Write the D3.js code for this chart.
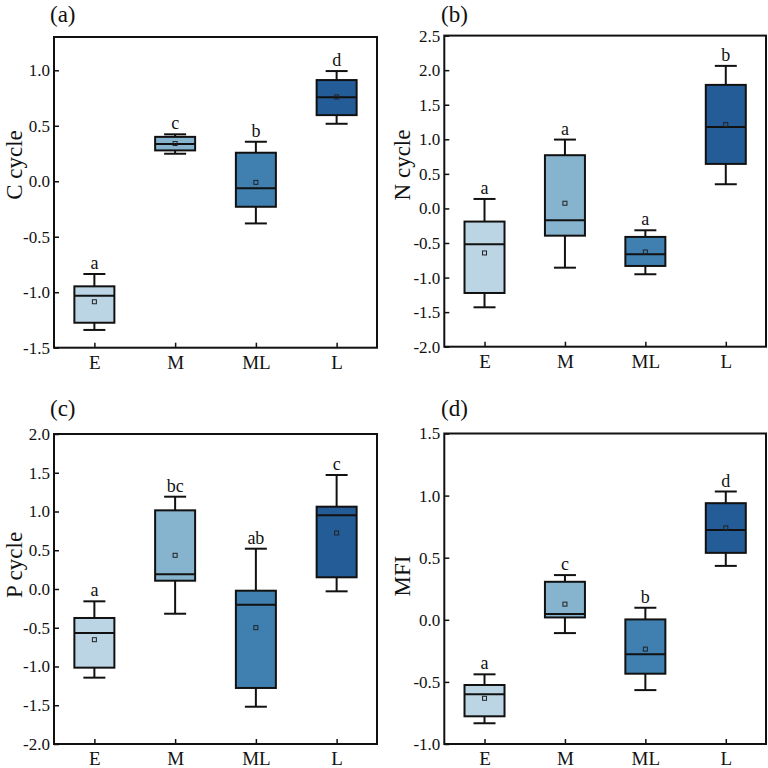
<!DOCTYPE html>
<html>
<head>
<meta charset="utf-8">
<script src="https://cdn.jsdelivr.net/npm/d3@7"></script>
<style>
  body { margin: 0; background: #fff; }
  svg text { font-family: "Liberation Serif", "Times New Roman", serif; fill: #111; }
</style>
</head>
<body>
<div id="chart"></div>
<script>
// groups on the x axis
const groups = ["E", "M", "ML", "L"];

// box stats per group: [whisker low, q1, median, q3, whisker high, mean]
const cCycle = [
  [-1.34, -1.275, -1.032, -0.947, -0.836, -1.086],
  [0.248, 0.278, 0.335, 0.40, 0.423, 0.34],
  [-0.38, -0.23, -0.064, 0.257, 0.356, -0.01],
  [0.518, 0.596, 0.756, 0.912, 0.993, 0.76]
];
const nCycle = [
  [-1.43, -1.223, -0.518, -0.19, 0.137, -0.644],
  [-0.857, -0.394, -0.171, 0.77, 0.996, 0.075],
  [-0.952, -0.832, -0.663, -0.412, -0.316, -0.63],
  [0.35, 0.644, 1.179, 1.787, 2.062, 1.213]
];
const pCycle = [
  [-1.144, -1.015, -0.568, -0.374, -0.159, -0.654],
  [-0.319, 0.107, 0.19, 1.015, 1.191, 0.435],
  [-1.519, -1.277, -0.203, -0.022, 0.52, -0.499],
  [-0.03, 0.151, 0.951, 1.062, 1.471, 0.723]
];
const mfi = [
  [-0.833, -0.777, -0.60, -0.525, -0.439, -0.632],
  [-0.107, 0.019, 0.046, 0.306, 0.36, 0.126],
  [-0.566, -0.434, -0.278, 0.003, 0.097, -0.236],
  [0.434, 0.539, 0.724, 0.939, 1.033, 0.74]
];

// significance letters
const cLetters = ["a", "c", "b", "d"];
const nLetters = ["a", "a", "a", "b"];
const pLetters = ["a", "bc", "ab", "c"];
const mfiLetters = ["a", "c", "b", "d"];

// y axis domains and ticks
const cDomain = [-1.5, 1.3], cTicks = [-1.5, -1.0, -0.5, 0.0, 0.5, 1.0];
const nDomain = [-2, 2.5], nTicks = [-2.0, -1.5, -1.0, -0.5, 0.0, 0.5, 1.0, 1.5, 2.0, 2.5];
const pDomain = [-2, 2], pTicks = [-2.0, -1.5, -1.0, -0.5, 0.0, 0.5, 1.0, 1.5, 2.0];
const mfiDomain = [-1, 1.5], mfiTicks = [-1.0, -0.5, 0.0, 0.5, 1.0, 1.5];

const colors = ["#bcd5e5", "#86b3cd", "#3f80b0", "#235c96"];

const panels = [
  {tag: "(a)", title: "C cycle", stats: cCycle, letters: cLetters, domain: cDomain, ticks: cTicks,
   x0: 54, x1: 377, y0: 37, y1: 347.7, tagX: 50, tagY: 21.5, titleX: 21.5, titleY: 165},
  {tag: "(b)", title: "N cycle", stats: nCycle, letters: nLetters, domain: nDomain, ticks: nTicks,
   x0: 444.3, x1: 766, y0: 35.6, y1: 346.7, tagX: 441, tagY: 21.5, titleX: 410, titleY: 165},
  {tag: "(c)", title: "P cycle", stats: pCycle, letters: pLetters, domain: pDomain, ticks: pTicks,
   x0: 54, x1: 377, y0: 434, y1: 744, tagX: 50, tagY: 416, titleX: 21.5, titleY: 565},
  {tag: "(d)", title: "MFI", stats: mfi, letters: mfiLetters, domain: mfiDomain, ticks: mfiTicks,
   x0: 444.3, x1: 766, y0: 433.5, y1: 744, tagX: 441, tagY: 416, titleX: 410, titleY: 576}
];

const width = 768, height = 768;
const boxW = 40, capW = 22;

const svg = d3.select("#chart").append("svg")
  .attr("width", width)
  .attr("height", height);

panels.forEach(p => {
  const x = d3.scalePoint().domain(groups).range([p.x0, p.x1]).padding(0.5);
  const y = d3.scaleLinear().domain(p.domain).range([p.y1, p.y0]);
  const g = svg.append("g");

  // y axis, ticks pointing inward
  const yAxis = g.append("g")
    .attr("transform", `translate(${p.x0},0)`)
    .call(d3.axisLeft(y).tickValues(p.ticks).tickSize(-5).tickPadding(4)
      .tickFormat(d => d.toFixed(1)));
  yAxis.attr("font-family", null);
  yAxis.select(".domain").remove();
  yAxis.selectAll(".tick line").attr("stroke", "#111").attr("stroke-width", 1.5);
  yAxis.selectAll(".tick text").attr("font-size", 17).attr("fill", "#111");

  // x axis
  const xAxis = g.append("g")
    .attr("transform", `translate(0,${p.y1})`)
    .call(d3.axisBottom(x).tickSize(-5).tickPadding(8));
  xAxis.attr("font-family", null);
  xAxis.select(".domain").remove();
  xAxis.selectAll(".tick line").attr("stroke", "#111").attr("stroke-width", 1.5);
  xAxis.selectAll(".tick text").attr("font-size", 19).attr("fill", "#111");

  // frame
  g.append("rect")
    .attr("x", p.x0).attr("y", p.y0)
    .attr("width", p.x1 - p.x0).attr("height", p.y1 - p.y0)
    .attr("fill", "none").attr("stroke", "#111").attr("stroke-width", 2);

  const boxes = g.selectAll("g.box")
    .data(p.stats.map((s, i) => ({group: groups[i], s, letter: p.letters[i], color: colors[i]})))
    .enter().append("g")
    .attr("class", "box");

  // whiskers
  boxes.append("line")
    .attr("x1", d => x(d.group)).attr("x2", d => x(d.group))
    .attr("y1", d => y(d.s[0])).attr("y2", d => y(d.s[4]))
    .attr("stroke", "#111").attr("stroke-width", 2);
  [0, 4].forEach(k => {
    boxes.append("line")
      .attr("x1", d => x(d.group) - capW / 2).attr("x2", d => x(d.group) + capW / 2)
      .attr("y1", d => y(d.s[k])).attr("y2", d => y(d.s[k]))
      .attr("stroke", "#111").attr("stroke-width", 2);
  });

  // box
  boxes.append("rect")
    .attr("x", d => x(d.group) - boxW / 2)
    .attr("y", d => y(d.s[3]))
    .attr("width", boxW)
    .attr("height", d => y(d.s[1]) - y(d.s[3]))
    .attr("fill", d => d.color)
    .attr("stroke", "#111").attr("stroke-width", 2);

  // median
  boxes.append("line")
    .attr("x1", d => x(d.group) - boxW / 2).attr("x2", d => x(d.group) + boxW / 2)
    .attr("y1", d => y(d.s[2])).attr("y2", d => y(d.s[2]))
    .attr("stroke", "#111").attr("stroke-width", 2);

  // mean marker
  boxes.append("rect")
    .attr("x", d => x(d.group) - 2).attr("y", d => y(d.s[5]) - 2)
    .attr("width", 4).attr("height", 4)
    .attr("fill", "none").attr("stroke", "#222").attr("stroke-width", 1);

  // letters
  boxes.append("text")
    .attr("x", d => x(d.group))
    .attr("y", d => y(d.s[4]) - 5)
    .attr("text-anchor", "middle")
    .attr("font-size", 18)
    .text(d => d.letter);

  // panel tag
  g.append("text")
    .attr("x", p.tagX).attr("y", p.tagY)
    .attr("font-size", 23)
    .text(p.tag);

  // y title
  g.append("text")
    .attr("transform", `translate(${p.titleX},${p.titleY}) rotate(-90)`)
    .attr("text-anchor", "middle")
    .attr("font-size", 23)
    .text(p.title);
});
</script>
</body>
</html>
